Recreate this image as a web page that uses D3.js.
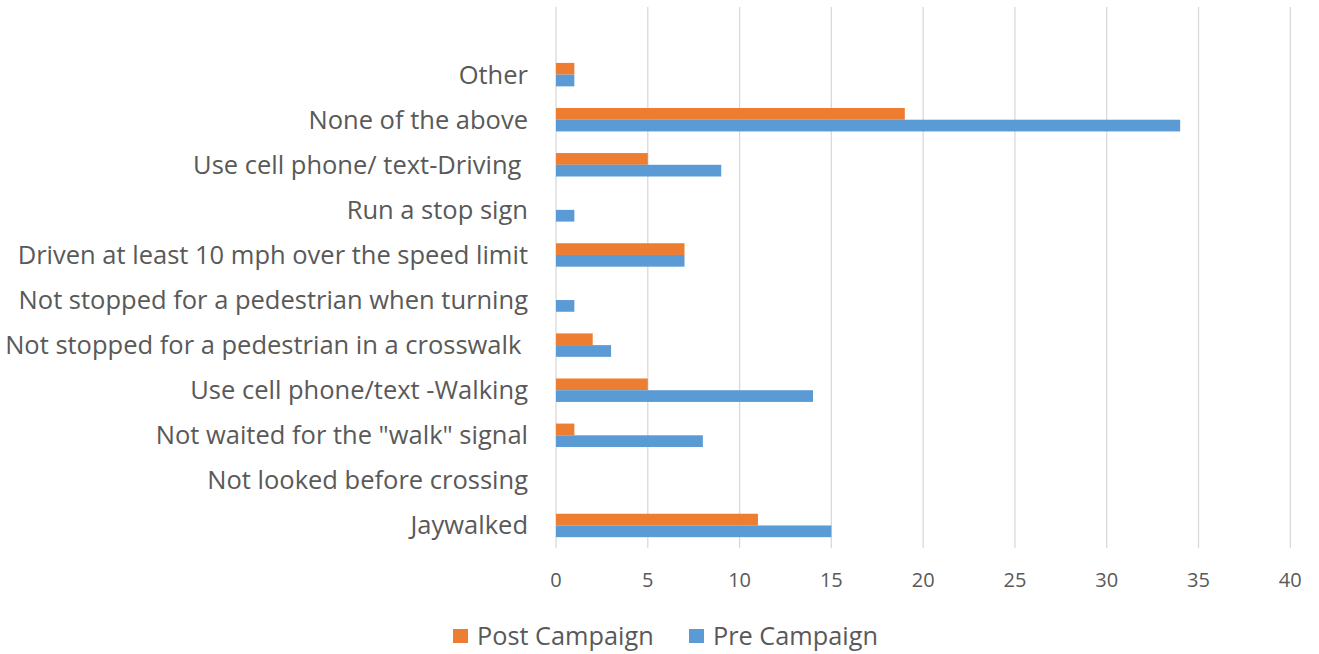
<!DOCTYPE html>
<html><head><meta charset="utf-8">
<script src="https://cdn.jsdelivr.net/npm/d3@7"></script>
<style>body{margin:0;background:#fff;} text{font-family:"Open Sans",sans-serif;fill:#595959;}</style>
</head><body>
<svg id="c" width="1319" height="654"></svg>
<script>
const categories = ["Jaywalked","Not looked before crossing","Not waited for the \"walk\" signal","Use cell phone/text -Walking","Not stopped for a pedestrian in a crosswalk ","Not stopped for a pedestrian when turning","Driven at least 10 mph over the speed limit","Run a stop sign","Use cell phone/ text-Driving ","None of the above","Other"];
const postCampaign = [11,0,1,5,2,0,7,0,5,19,1];
const preCampaign = [15,0,8,14,3,1,7,1,9,34,1];
const xTicks = [0,5,10,15,20,25,30,35,40];
const seriesNames = ["Post Campaign","Pre Campaign"];
const colors = ["#ED7D31","#5B9BD5"];

(function(){
const svg = d3.select("#c");
const px0 = 556, px1 = 1290.3, pTop = 7, pBottom = 548;
const step = (pBottom - pTop) / 12;
const x = d3.scaleLinear().domain([0,40]).range([px0,px1]);
const y = d3.scaleBand().domain(categories).range([pBottom, pTop + step]).paddingInner(0.48).paddingOuter(0.24);
const sub = d3.scaleBand().domain(seriesNames).range([0, y.bandwidth()]);

svg.append("g").selectAll("line").data(xTicks).join("line")
  .attr("x1", d=>x(d)).attr("x2", d=>x(d)).attr("y1", pTop).attr("y2", pBottom)
  .attr("stroke", "#d9d9d9").attr("stroke-width", 1.3);

svg.append("g").selectAll("text").data(xTicks).join("text")
  .attr("x", d=>x(d)).attr("y", 587).attr("text-anchor","middle")
  .style("font-size","20px").text(d=>d);

const series = [postCampaign, preCampaign];
series.forEach((vals, si) => {
  svg.append("g").selectAll("rect").data(categories).join("rect")
    .attr("x", x(0)).attr("y", (c)=> y(c) + sub(seriesNames[si]))
    .attr("width", (c,i)=> x(vals[i]) - x(0))
    .attr("height", sub.bandwidth())
    .attr("fill", colors[si]);
});

svg.append("g").selectAll("text").data(categories).join("text")
  .attr("x", 528).attr("y", c=> y(c) + y.bandwidth()/2).attr("dy","0.35em")
  .attr("text-anchor","end").attr("xml:space","preserve").style("white-space","pre")
  .style("font-size","25.5px").text(c=>c);

const leg = [{name:seriesNames[0], c:colors[0], sx:453, tx:477},{name:seriesNames[1], c:colors[1], sx:689, tx:713}];
const lg = svg.append("g");
leg.forEach(l=>{
  lg.append("rect").attr("x", l.sx).attr("y", 629).attr("width", 15).attr("height", 14).attr("fill", l.c);
  lg.append("text").attr("x", l.tx).attr("y", 645).style("font-size","25.3px").text(l.name);
});
})();
</script>
</body></html>
